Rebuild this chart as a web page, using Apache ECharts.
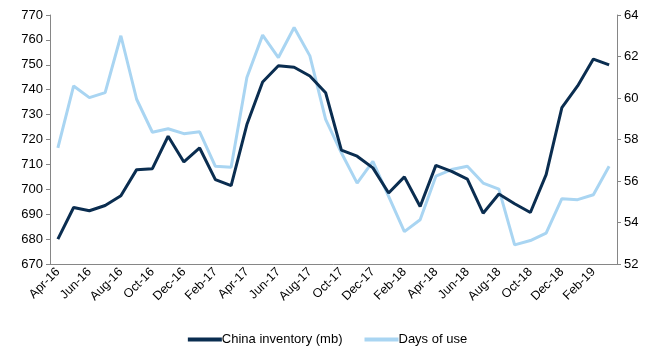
<!DOCTYPE html>
<html>
<head>
<meta charset="utf-8">
<script src="https://cdn.jsdelivr.net/npm/echarts@6/dist/echarts.min.js"></script>
<style>
  html, body { margin: 0; padding: 0; background: #fff; }
  #chart { width: 655px; height: 347px; }
</style>
</head>
<body>
<div id="chart"></div>
<script>
// categories
var months = [
  'Apr-16', 'May-16', 'Jun-16', 'Jul-16', 'Aug-16', 'Sep-16', 'Oct-16', 'Nov-16', 'Dec-16',
  'Jan-17', 'Feb-17', 'Mar-17', 'Apr-17', 'May-17', 'Jun-17', 'Jul-17', 'Aug-17', 'Sep-17',
  'Oct-17', 'Nov-17', 'Dec-17', 'Jan-18', 'Feb-18', 'Mar-18', 'Apr-18', 'May-18', 'Jun-18',
  'Jul-18', 'Aug-18', 'Sep-18', 'Oct-18', 'Nov-18', 'Dec-18', 'Jan-19', 'Feb-19', 'Mar-19'
];
// China inventory (mb), left axis
var inventory = [
  680, 692.7, 691.4, 693.5, 697.4, 707.9, 708.3, 721.3, 711, 716.6, 703.9, 701.5,
  726, 743.1, 749.6, 749, 745.5, 738.8, 715.7, 713.3, 708.6, 698.5, 705, 693.1,
  709.6, 707.2, 704.1, 690.4, 698.1, 694.2, 690.7, 705.9, 732.8, 741.5, 752.3, 750
];
// Days of use, right axis
var daysOfUse = [
  57.6, 60.58, 60.02, 60.26, 63.0, 59.94, 58.35, 58.52, 58.28, 58.37, 56.71, 56.66,
  60.99, 63.03, 61.95, 63.4, 62.03, 58.97, 57.36, 55.9, 56.95, 55.26, 53.56, 54.13,
  56.23, 56.55, 56.71, 55.9, 55.61, 52.92, 53.13, 53.49, 55.15, 55.1, 55.34, 56.71
];

var font = 'Liberation Sans, Arial, sans-serif';
var axisGrey = '#868686';

var myChart = echarts.init(document.getElementById('chart'));
var option = {
  animation: false,
  textStyle: { fontFamily: font },
  grid: { left: 50, right: 38, top: 15, bottom: 83 },
  legend: {
    top: 328,
    left: 'center',
    itemWidth: 34,
    itemHeight: 4,
    itemGap: 22,
    icon: 'rect',
    textStyle: { fontSize: 13, color: '#000', fontFamily: font, padding: [0, 0, 0, -5] },
    data: ['China inventory (mb)', 'Days of use']
  },
  xAxis: {
    type: 'category',
    data: months,
    boundaryGap: true,
    axisLine: { lineStyle: { color: axisGrey } },
    axisTick: { interval: 1, inside: true, length: 4, lineStyle: { color: axisGrey } },
    axisLabel: { interval: 1, rotate: 45, fontSize: 12.5, color: '#000', margin: 6, fontFamily: font }
  },
  yAxis: [
    {
      type: 'value',
      min: 670, max: 770, interval: 10,
      splitLine: { show: false },
      axisLine: { show: true, lineStyle: { color: axisGrey } },
      axisTick: { show: true, length: 4, lineStyle: { color: axisGrey } },
      axisLabel: { fontSize: 13, color: '#000', margin: 7, fontFamily: font }
    },
    {
      type: 'value',
      min: 52, max: 64, interval: 2,
      splitLine: { show: false },
      axisLine: { show: true, lineStyle: { color: axisGrey } },
      axisTick: { show: true, length: 4, lineStyle: { color: axisGrey } },
      axisLabel: { fontSize: 13, color: '#000', margin: 7, fontFamily: font }
    }
  ],
  series: [
    {
      name: 'China inventory (mb)',
      type: 'line',
      yAxisIndex: 0,
      data: inventory,
      symbol: 'none',
      z: 3,
      lineStyle: { width: 3, color: '#0a2d50' },
      itemStyle: { color: '#0a2d50' }
    },
    {
      name: 'Days of use',
      type: 'line',
      yAxisIndex: 1,
      data: daysOfUse,
      symbol: 'none',
      z: 2,
      lineStyle: { width: 3, color: '#a9d5f2' },
      itemStyle: { color: '#a9d5f2' }
    }
  ]
};
myChart.setOption(option);
</script>
</body>
</html>
